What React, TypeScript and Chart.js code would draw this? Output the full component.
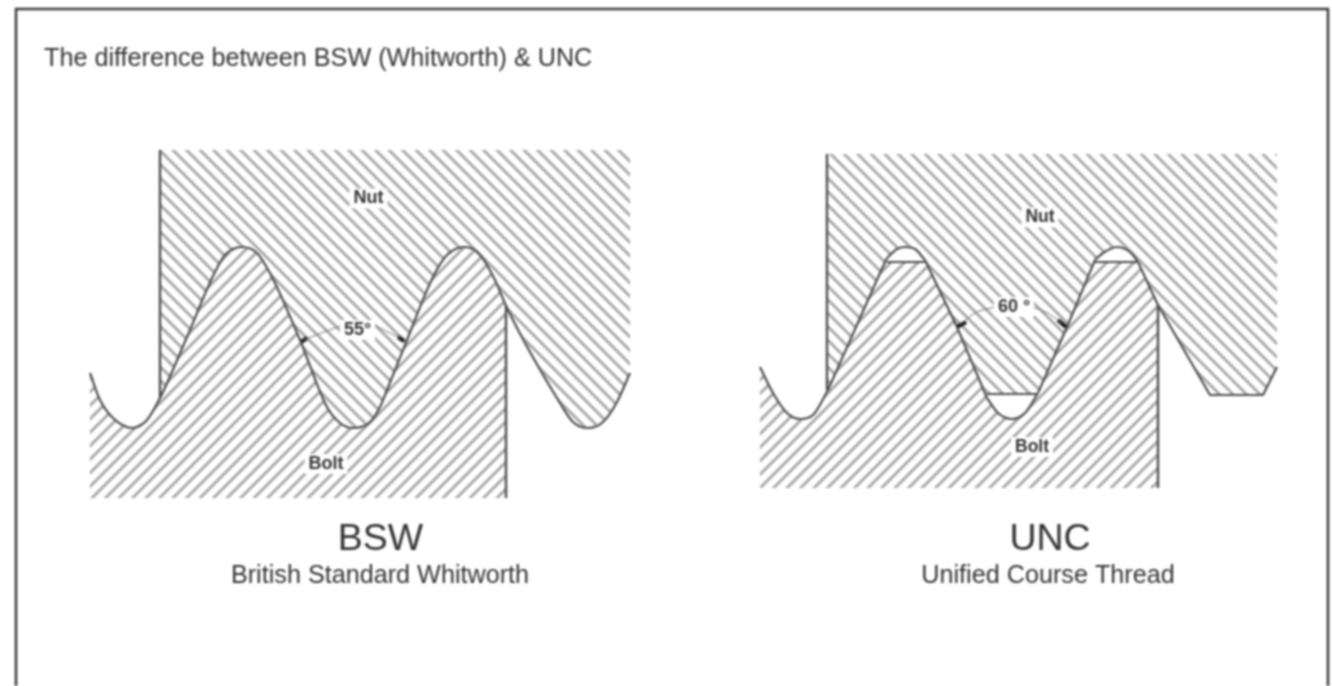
import React, { useEffect, useRef } from "react";
import { Chart, registerables } from "chart.js";

Chart.register(...registerables);

// Outer frame
const frameX = [16, 16, 1328, 1328];
const frameY = [686, 9, 9, 686];

// BSW thread profile
const bswX = [90, 100, 113, 132, 147, 160, 187, 213, 225, 242, 257, 272, 300, 327, 340, 353, 370, 380, 387, 407, 433, 447, 465, 480, 495, 507, 560, 573, 588, 603, 617, 630];
const bswY = [373, 400, 418, 428, 420, 398, 337, 276, 255, 247, 253, 277, 340, 407, 423, 428, 422, 407, 390, 340, 277, 255, 247, 255, 280, 308, 403, 422, 428, 422, 402, 373];
const bswNutStart = 5; // index where the nut meets the profile
const bswBoltEnd = 25; // index where the bolt meets the profile
const bswNutCornersX = [630, 160, 160];
const bswNutCornersY = [150, 150, 398];
const bswBoltCornersX = [506, 90];
const bswBoltCornersY = [498, 498];
const bswWallNutX = [160, 160];
const bswWallNutY = [150, 398];
const bswWallBoltX = [506, 506];
const bswWallBoltY = [305, 498];

// UNC nut profile
const uncNutX = [828, 880, 887, 897, 905, 915, 925, 957, 987, 1038, 1067, 1095, 1103, 1117, 1130, 1138, 1158, 1210, 1263, 1277];
const uncNutY = [390, 273, 258, 249, 247, 249, 260, 327, 394, 394, 327, 260, 253, 247, 252, 262, 305, 395, 395, 367];
const uncNutCornersX = [1277, 827, 827];
const uncNutCornersY = [154, 154, 390];

// UNC bolt profile
const uncBoltX = [760, 773, 787, 800, 813, 828, 880, 887, 925, 957, 987, 998, 1012, 1025, 1038, 1067, 1095, 1137, 1158];
const uncBoltY = [367, 393, 413, 419, 415, 390, 273, 262, 262, 327, 398, 413, 419, 413, 393, 327, 262, 262, 305];
const uncBoltCornersX = [1158, 760];
const uncBoltCornersY = [488, 488];
const uncWallNutX = [827, 827];
const uncWallNutY = [154, 390];
const uncWallBoltX = [1158, 1158];
const uncWallBoltY = [305, 488];

// UNC outline
const uncRootCurveX = [760, 773, 787, 800, 813, 828];
const uncRootCurveY = [367, 393, 413, 419, 415, 390];
const uncFlank1X = [828, 880, 887];
const uncFlank1Y = [390, 273, 258];
const uncCap1X = [887, 897, 905, 915, 925];
const uncCap1Y = [258, 249, 247, 249, 260];
const uncFlat1X = [887, 925];
const uncFlat1Y = [262, 262];
const uncFlank2X = [925, 957, 987];
const uncFlank2Y = [260, 327, 398];
const uncRootArcX = [987, 998, 1012, 1025, 1038];
const uncRootArcY = [398, 413, 419, 413, 393];
const uncFlatRootX = [987, 1038];
const uncFlatRootY = [394, 394];
const uncFlank3X = [1038, 1067, 1095];
const uncFlank3Y = [393, 327, 260];
const uncCap2X = [1095, 1103, 1117, 1130, 1138];
const uncCap2Y = [260, 253, 247, 252, 262];
const uncFlat2X = [1095, 1137];
const uncFlat2Y = [262, 262];
const uncTailX = [1138, 1158, 1210, 1263, 1277];
const uncTailY = [262, 305, 395, 395, 367];

// Angle leaders
const lead55LX = [303, 340];
const lead55LY = [340, 326];
const lead55RX = [402, 376];
const lead55RY = [339, 326];
const lead60LX = [960, 975, 995];
const lead60LY = [325, 313, 307];
const lead60RX = [1062, 1048, 1033];
const lead60RY = [323, 313, 307];
const arrowXs = [[301, 307], [398, 404], [957, 966], [1058, 1066]];
const arrowYs = [[342, 338], [337, 341], [327, 322], [320, 327]];

// Text
const labelTexts = ["The difference between BSW (Whitworth) & UNC", "Nut", "Bolt", "55°", "BSW", "British Standard Whitworth", "Nut", "Bolt", "60 °", "UNC", "Unified Course Thread"];
const labelXs = [44, 368.5, 326, 357.5, 380.5, 380, 1040, 1032, 1014, 1050, 1048];
const labelYs = [59.5, 198.5, 464, 330, 540, 576, 217.5, 447, 307, 540, 576];
const labelFonts = ["25.2px", "bold 18px", "bold 18px", "bold 18px", "37.5px", "25.2px", "bold 17.5px", "bold 17.5px", "bold 18px", "37.5px", "25.2px"];
const labelAligns = ["left", "center", "center", "center", "center", "center", "center", "center", "center", "center", "center"];
const labelBoxed = [false, true, true, true, false, false, true, true, true, false, false];

const zip = (xs: number[], ys: number[]) => xs.map((x, i) => ({ x, y: ys[i] }));

function hatch(ctx: CanvasRenderingContext2D, dir: 1 | -1, phase: number) {
  const period = 13.5;
  const tile = 27;
  const c = document.createElement("canvas");
  c.width = tile;
  c.height = tile;
  const g = c.getContext("2d")!;
  g.strokeStyle = "#a6a6a6";
  g.lineWidth = 2.8;
  for (let k = -10; k <= 12; k++) {
    const base = phase + k * period;
    g.beginPath();
    g.moveTo(base - dir * tile, -tile);
    g.lineTo(base + dir * 2 * tile, 2 * tile);
    g.stroke();
  }
  return ctx.createPattern(c, "repeat")!;
}

const area = (xs: number[], ys: number[], fill: CanvasPattern) => ({
  data: zip(xs, ys),
  showLine: true,
  fill: "shape",
  backgroundColor: fill,
  borderWidth: 0,
  borderColor: "rgba(0,0,0,0)",
  pointRadius: 0,
  tension: 0,
  clip: false,
});

const stroke = (xs: number[], ys: number[], width = 2.2, color = "#4d4d4d", smooth = false) => ({
  data: zip(xs, ys),
  showLine: true,
  fill: false,
  borderColor: color,
  borderWidth: width,
  pointRadius: 0,
  tension: 0,
  cubicInterpolationMode: smooth ? "monotone" : "default",
  clip: false,
});

const textPlugin = {
  id: "diagramText",
  afterDatasetsDraw(chart: any) {
    const { ctx, scales } = chart;
    ctx.save();
    ctx.textBaseline = "middle";
    labelTexts.forEach((t, i) => {
      const px = scales.x.getPixelForValue(labelXs[i]);
      const py = scales.y.getPixelForValue(labelYs[i]);
      ctx.font = `${labelFonts[i]} "Liberation Sans", Arial, sans-serif`;
      ctx.textAlign = labelAligns[i];
      if (labelBoxed[i]) {
        const w = ctx.measureText(t).width;
        ctx.fillStyle = "#ffffff";
        ctx.fillRect(px - w / 2 - 4, py - 10, w + 8, 20);
      }
      ctx.fillStyle = "#333333";
      ctx.fillText(t, px, py);
    });
    ctx.restore();
  },
};

export default function App() {
  const ref = useRef<HTMLCanvasElement>(null);
  useEffect(() => {
    document.body.style.margin = "0";
    const ctx = ref.current!.getContext("2d")!;
    const nutL = hatch(ctx, 1, 9.5);
    const boltL = hatch(ctx, -1, 9.5);
    const nutR = hatch(ctx, 1, 1.7);
    const boltR = hatch(ctx, -1, 6);
    const chart = new Chart(ctx, {
      type: "scatter",
      data: {
        datasets: [
          stroke(frameX, frameY, 2.5, "#3a3a3a"),
          stroke(bswX, bswY, 2.2, "#4d4d4d", true),
          stroke(bswWallNutX, bswWallNutY, 2.4),
          stroke(bswWallBoltX, bswWallBoltY, 2.4),
          stroke(uncRootCurveX, uncRootCurveY, 2.2, "#4d4d4d", true),
          stroke(uncFlank1X, uncFlank1Y),
          stroke(uncCap1X, uncCap1Y, 2.2, "#4d4d4d", true),
          stroke(uncFlat1X, uncFlat1Y),
          stroke(uncFlank2X, uncFlank2Y),
          stroke(uncRootArcX, uncRootArcY, 2.2, "#4d4d4d", true),
          stroke(uncFlatRootX, uncFlatRootY),
          stroke(uncFlank3X, uncFlank3Y),
          stroke(uncCap2X, uncCap2Y, 2.2, "#4d4d4d", true),
          stroke(uncFlat2X, uncFlat2Y),
          stroke(uncTailX, uncTailY),
          stroke(uncWallNutX, uncWallNutY, 2.4),
          stroke(uncWallBoltX, uncWallBoltY, 2.4),
          stroke(lead55LX, lead55LY, 1, "#777777"),
          stroke(lead55RX, lead55RY, 1, "#777777"),
          stroke(lead60LX, lead60LY, 1, "#777777", true),
          stroke(lead60RX, lead60RY, 1, "#777777"),
          ...arrowXs.map((xs, i) => stroke(xs, arrowYs[i], 4, "#111111")),
          area(
            [...bswX.slice(bswNutStart), ...bswNutCornersX],
            [...bswY.slice(bswNutStart), ...bswNutCornersY],
            nutL
          ),
          area(
            [...bswX.slice(0, bswBoltEnd + 1), ...bswBoltCornersX],
            [...bswY.slice(0, bswBoltEnd + 1), ...bswBoltCornersY],
            boltL
          ),
          area([...uncNutX, ...uncNutCornersX], [...uncNutY, ...uncNutCornersY], nutR),
          area([...uncBoltX, ...uncBoltCornersX], [...uncBoltY, ...uncBoltCornersY], boltR),
        ] as any,
      },
      options: {
        animation: false,
        responsive: false,
        maintainAspectRatio: false,
        layout: { padding: 0 },
        scales: {
          x: { type: "linear", display: false, min: 0, max: 1332 },
          y: { type: "linear", display: false, min: 0, max: 686, reverse: true },
        },
        plugins: { legend: { display: false }, tooltip: { enabled: false } },
      },
      plugins: [textPlugin],
    });
    return () => chart.destroy();
  }, []);
  return (
    <canvas
      ref={ref}
      width={1332}
      height={686}
      style={{ display: "block", width: 1332, height: 686, background: "#ffffff", filter: "blur(0.9px)" }}
    />
  );
}
